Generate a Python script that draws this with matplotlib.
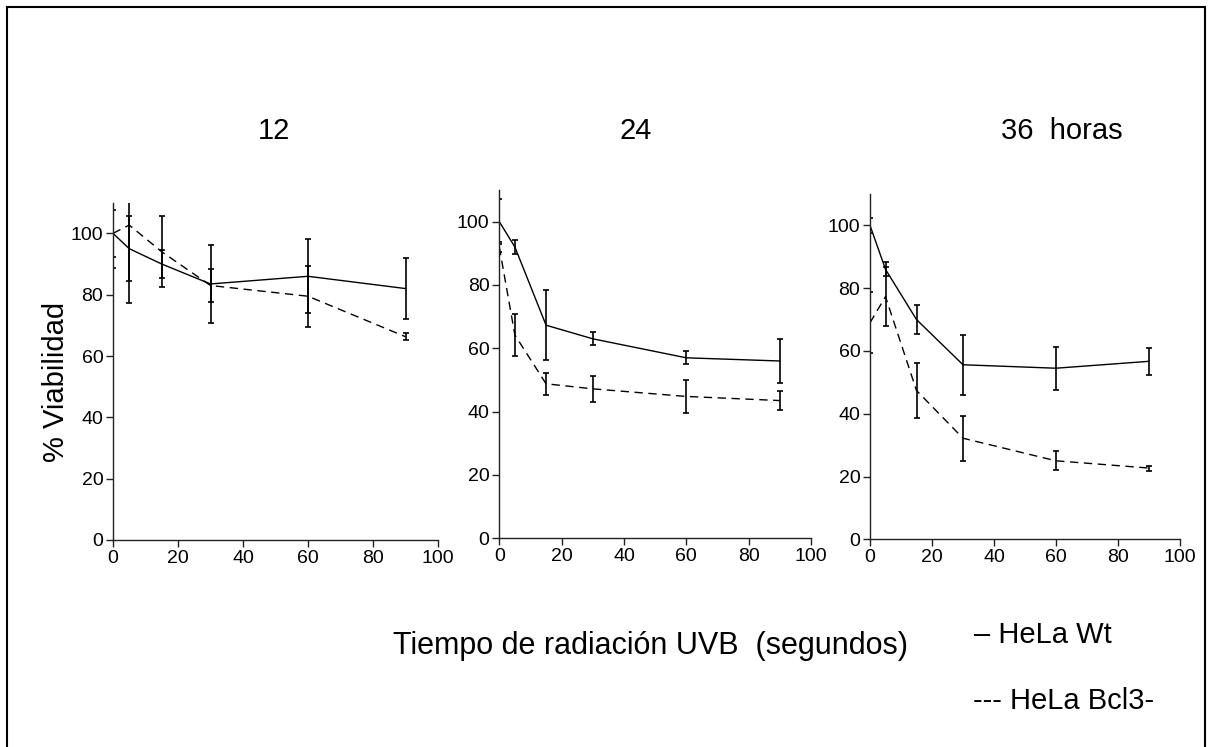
import matplotlib
matplotlib.use("Agg")
import matplotlib.pyplot as plt
from matplotlib.patches import Rectangle

plt.rcParams['font.family'] = ['Liberation Sans', 'DejaVu Sans']

# ---- data ----
tiempo = [0, 5, 15, 30, 60, 90]
titulos = ["12", "24", "36  horas"]

wt_12 = [100, 95, 90, 83.5, 86, 82]
wt_12_err = [11.4, 10.5, 4.7, 12.8, 12, 10]
bcl_12 = [100, 102.7, 94, 83, 79.5, 66.3]
bcl_12_err = [7.6, 25.5, 11.5, 5.3, 10, 1.1]

wt_24 = [100, 92, 67.3, 63, 57, 56]
wt_24_err = [7, 2.1, 11.1, 2, 2, 7]
bcl_24 = [92, 64.2, 48.8, 47.2, 44.8, 43.5]
bcl_24_err = [1.5, 6.6, 3.4, 4.2, 5.3, 3]

wt_36 = [100, 86, 70, 55.6, 54.5, 56.7]
wt_36_err = [2.3, 2.2, 4.5, 9.5, 6.8, 4.4]
bcl_36 = [69, 77.3, 47.4, 32.2, 25, 22.7]
bcl_36_err = [9.7, 9.5, 8.7, 7.1, 3, 0.8]

xticks = [0, 20, 40, 60, 80, 100]
yticks = [0, 20, 40, 60, 80, 100]

W, H = 1208, 747
fig = plt.figure(figsize=(W / 100, H / 100), dpi=100)

# axes rectangles in pixels: left, right, top, bottom
rects = [(113, 438, 202.7, 540), (499.3, 811, 190, 538.3), (870, 1180, 194, 539.3)]
series = [(wt_12, wt_12_err, bcl_12, bcl_12_err),
          (wt_24, wt_24_err, bcl_24, bcl_24_err),
          (wt_36, wt_36_err, bcl_36, bcl_36_err)]

axes = []
for (l, r, t, b), (wt, wte, bc, bce) in zip(rects, series):
    ax = fig.add_axes([l / W, (H - b) / H, (r - l) / W, (b - t) / H])
    ax.errorbar(tiempo, wt, yerr=wte, color='black', lw=1.0, elinewidth=1.2,
                capsize=2.3, capthick=1.2, ls='-')
    ax.errorbar(tiempo, bc, yerr=bce, color='black', lw=1.0, elinewidth=1.2,
                capsize=2.3, capthick=1.2, ls=(0, (6, 4)))
    ax.set_xlim(0, 100)
    ax.set_ylim(0, 110)
    ax.set_xticks(xticks)
    ax.set_yticks(yticks)
    for s in ['top', 'right']:
        ax.spines[s].set_visible(False)
    for s in ['left', 'bottom']:
        ax.spines[s].set_linewidth(1.0)
        ax.spines[s].set_color('#222222')
    ax.tick_params(direction='out', length=5, width=1, pad=2, labelsize=14,
                   color='#222222')
    ax.patch.set_alpha(0)
    axes.append(ax)

# titles
fig.text(274 / W, 1 - 131 / H, titulos[0], ha='center', va='center', fontsize=21)
fig.text(636 / W, 1 - 131 / H, titulos[1], ha='center', va='center', fontsize=21)
fig.text(1001 / W, 1 - 131 / H, titulos[2], ha='left', va='center', fontsize=21)

# y label
fig.text(56 / W, 1 - 382 / H, "% Viabilidad", rotation=90, ha='center',
         va='center', fontsize=21)

# x label
fig.text(393 / W, 1 - 654 / H, "Tiempo de radiación UVB  (segundos)",
         ha='left', va='baseline', fontsize=22)

# legend texts
fig.text(974 / W, 1 - 643 / H, "– HeLa Wt", ha='left', va='baseline', fontsize=21)
fig.text(973 / W, 1 - 709 / H, "--- HeLa Bcl3-", ha='left', va='baseline', fontsize=21)

# border (bottom edge lies outside the picture)
fig.patches.append(Rectangle((6.5 / W, -0.05), (1205 - 6.5) / W, 1.05 - 6.5 / H,
                             transform=fig.transFigure, fill=False,
                             edgecolor='black', lw=1.5))

fig.savefig("out.png", dpi=100)
